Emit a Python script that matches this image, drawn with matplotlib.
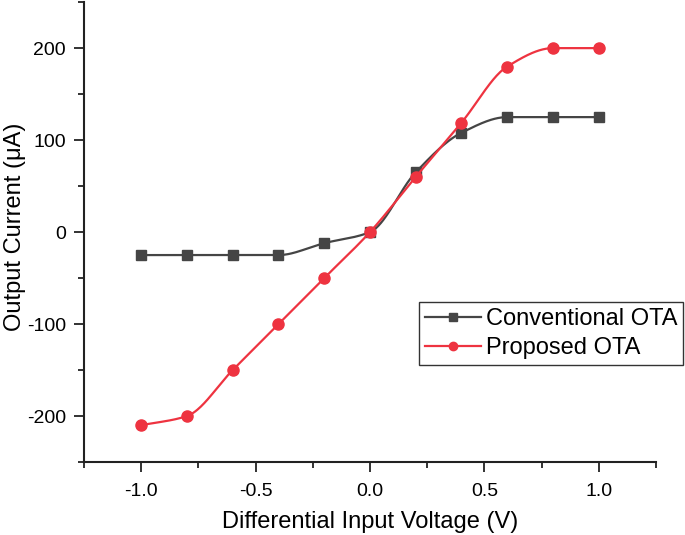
import numpy as np
import matplotlib
matplotlib.use("Agg")
import matplotlib.pyplot as plt
from matplotlib.ticker import MultipleLocator

plt.rcParams['font.family'] = ['Liberation Sans', 'DejaVu Sans']
plt.rcParams['axes.unicode_minus'] = False

# data
vin = [-1.0, -0.8, -0.6, -0.4, -0.2, 0.0, 0.2, 0.4, 0.6, 0.8, 1.0]
conv_ota = [-25, -25, -25, -25, -12, 0, 65, 108, 125, 125, 125]
prop_ota = [-210, -200, -150, -100, -50, 0, 60, 119, 180, 200, 200]


def pchip(x, y, xs):
    # monotone cubic (Fritsch-Carlson), stands in for Origin's spline line
    x = np.asarray(x, float)
    y = np.asarray(y, float)
    h = np.diff(x)
    d = np.diff(y) / h
    m = np.zeros_like(y)
    for k in range(1, len(x) - 1):
        if d[k - 1] * d[k] > 0:
            w1 = 2 * h[k] + h[k - 1]
            w2 = h[k] + 2 * h[k - 1]
            m[k] = (w1 + w2) / (w1 / d[k - 1] + w2 / d[k])
    m[0] = d[0]
    m[-1] = d[-1]
    i = np.clip(np.searchsorted(x, xs) - 1, 0, len(x) - 2)
    t = (xs - x[i]) / h[i]
    h00 = 2 * t**3 - 3 * t**2 + 1
    h10 = t**3 - 2 * t**2 + t
    h01 = -2 * t**3 + 3 * t**2
    h11 = t**3 - t**2
    return h00 * y[i] + h10 * h[i] * m[i] + h01 * y[i + 1] + h11 * h[i] * m[i + 1]


fig = plt.figure(figsize=(6.85, 5.35), dpi=100)
ax = fig.add_axes([0.1226, 0.1364, 0.835, 0.8596])

xs = np.linspace(-1.0, 1.0, 400)
black = '#454545'
red = '#ee3340'

ax.plot(xs, pchip(vin, conv_ota, xs), color=black, lw=1.6)
ax.plot(vin, conv_ota, ls='none', marker='s', ms=7.5, color=black)
ax.plot(xs, pchip(vin, prop_ota, xs), color=red, lw=1.6)
ax.plot(vin, prop_ota, ls='none', marker='o', ms=8, color=red)

# legend handles
h1, = ax.plot([], [], color=black, lw=1.6, marker='s', ms=6)
h2, = ax.plot([], [], color=red, lw=1.6, marker='o', ms=6)
leg = fig.legend([h1, h2], ['Conventional OTA', 'Proposed OTA'],
                 loc='upper right', bbox_to_anchor=(683 / 685, 1 - 302 / 535),
                 fontsize=17, frameon=True, fancybox=False, framealpha=1,
                 edgecolor='#333333', handlelength=2.35, handletextpad=0.2,
                 borderpad=0.25, labelspacing=0.3, borderaxespad=0)
leg.get_frame().set_linewidth(1.0)

ax.set_xlim(-1.25, 1.25)
ax.set_ylim(-250, 250)
ax.xaxis.set_major_locator(MultipleLocator(0.5))
ax.xaxis.set_minor_locator(MultipleLocator(0.25))
ax.yaxis.set_major_locator(MultipleLocator(100))
ax.yaxis.set_minor_locator(MultipleLocator(50))
ax.set_yticks([-200, -100, 0, 100, 200])

for s in ['top', 'right']:
    ax.spines[s].set_visible(False)
for s in ['left', 'bottom']:
    ax.spines[s].set_linewidth(1.5)
    ax.spines[s].set_color('#222222')

ax.tick_params(which='major', direction='out', length=7, width=1.3, labelsize=14, pad=6, color='#222222')
ax.tick_params(which='minor', direction='out', length=4, width=1.3, color='#222222')
ax.tick_params(axis='x', which='major', pad=8)

ax.set_xlabel('Differential Input Voltage (V)', fontsize=17, labelpad=8)
ax.set_ylabel('Output Current (μA)', fontsize=17)
ax.yaxis.set_label_coords(-0.101, 0.511)

fig.savefig('out.png', dpi=100)
